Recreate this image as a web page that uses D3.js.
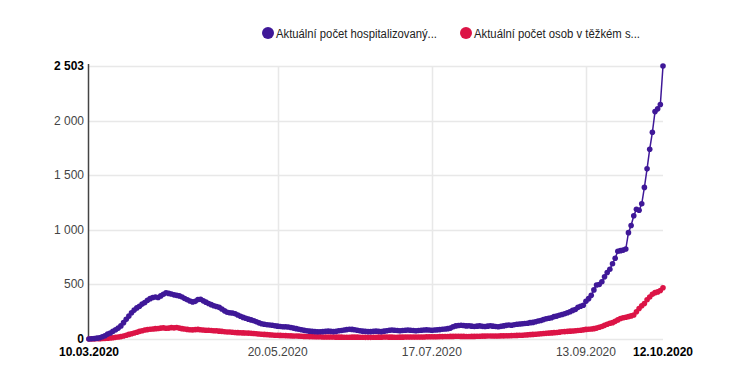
<!DOCTYPE html>
<html><head><meta charset="utf-8">
<script src="https://cdn.jsdelivr.net/npm/d3@7"></script>
<style>body{margin:0;background:#fff;font-family:"Liberation Sans",Arial,sans-serif}</style>
</head><body><svg id="c" width="750" height="388"></svg>
<script>
const startDate = "10.03.2020";
const seriesNames = ["Aktuální počet hospitalizovaný...", "Aktuální počet osob v těžkém s..."];
const seriesColors = ["#3f1898", "#dc1446"];
const xTickLabels = ["10.03.2020", "20.05.2020", "17.07.2020", "13.09.2020", "12.10.2020"];
const yTickValues = [0, 500, 1000, 1500, 2000, 2503];
const yTickLabels = ["0", "500", "1 000", "1 500", "2 000", "2 503"];

const hospitalized = [
0,2,5,8,12,20,30,45,55,70,
85,100,120,150,180,210,240,265,285,300,
320,335,355,370,380,385,380,395,410,424,
418,412,405,400,395,385,372,360,348,340,
345,362,365,350,338,325,315,305,298,290,
275,258,245,240,238,232,220,208,198,190,
182,175,168,158,148,140,135,130,128,126,
122,118,115,113,112,110,105,100,95,90,
85,80,76,72,70,68,67,66,68,70,
72,70,68,70,75,78,82,86,90,88,
85,80,76,72,70,68,68,70,72,70,
68,72,75,80,82,80,78,76,78,80,
82,80,78,76,78,80,82,84,82,80,
82,84,86,90,92,95,100,112,120,124,
126,124,120,122,118,115,118,120,116,114,
118,122,118,115,113,116,120,125,128,126,
130,135,138,140,142,145,150,152,158,165,
170,178,185,190,195,205,210,218,225,232,
240,250,262,270,290,300,310,345,370,400,
450,495,500,525,570,610,640,690,740,805,
810,815,825,975,1040,1130,1190,1180,1240,1390,
1560,1740,1895,2085,2110,2150,2503
];
const severe = [
0,0,1,2,3,4,6,8,10,12,
15,18,22,28,35,42,48,55,62,70,
76,82,86,90,92,95,96,100,102,98,
100,104,102,105,100,95,92,88,85,84,
86,88,85,82,80,80,78,76,75,72,
70,66,64,64,62,60,58,57,56,55,
54,52,50,48,46,44,42,40,38,36,
35,34,33,32,31,30,29,28,27,26,
25,24,23,22,22,21,20,20,19,19,
18,18,18,17,17,17,16,16,16,17,
17,17,16,16,15,15,15,16,16,17,
17,18,18,17,17,16,16,17,17,18,
18,19,19,18,18,19,19,20,20,21,
21,21,22,22,23,23,24,24,25,25,
24,24,23,23,24,24,25,25,26,26,
27,27,28,28,28,29,29,30,30,31,
32,33,34,35,36,38,40,42,44,46,
48,50,52,54,56,58,60,63,66,68,
70,72,74,76,78,80,84,88,90,92,
95,100,108,115,125,135,144,150,162,175,
188,195,200,205,212,220,250,280,305,325,
360,385,410,425,432,445,470
];

const parse = d3.timeParse("%d.%m.%Y");
const t0 = parse(startDate);
const dates = hospitalized.map((_, i) => d3.timeDay.offset(t0, i));
const series = [hospitalized, severe];

const svg = d3.select("#c");
const x = d3.scaleTime().domain([dates[0], dates[dates.length - 1]]).range([89, 663]);
const y = d3.scaleLinear().domain([0, 2503]).range([339, 66]);

// horizontal grid
svg.append("g").selectAll("line").data(yTickValues).join("line")
  .attr("x1", 88).attr("x2", 663)
  .attr("y1", d => Math.round(y(d)) + 0.5).attr("y2", d => Math.round(y(d)) + 0.5)
  .attr("stroke", "#e8e8e8").attr("stroke-width", 1.5);

// vertical grid
const xTickDates = xTickLabels.map(parse);
svg.append("g").selectAll("line").data(xTickDates.slice(1, -1)).join("line")
  .attr("x1", d => Math.round(x(d)) + 0.5).attr("x2", d => Math.round(x(d)) + 0.5)
  .attr("y1", 66).attr("y2", 339)
  .attr("stroke", "#e8e8e8").attr("stroke-width", 1.5);

// left axis line
svg.append("line").attr("x1", 88.5).attr("x2", 88.5).attr("y1", 64).attr("y2", 340)
  .attr("stroke", "#444").attr("stroke-width", 1.5);

// y labels
svg.append("g").selectAll("text").data(yTickValues).join("text")
  .attr("x", 84).attr("y", d => y(d) + 4)
  .attr("text-anchor", "end")
  .attr("font-size", 12)
  .attr("font-weight", (d, i) => (i === 0 || i === yTickValues.length - 1) ? "bold" : "normal")
  .attr("fill", (d, i) => (i === 0 || i === yTickValues.length - 1) ? "#000" : "#444")
  .text((d, i) => yTickLabels[i]);

// x labels
svg.append("g").selectAll("text").data(xTickDates).join("text")
  .attr("x", d => x(d)).attr("y", 356)
  .attr("text-anchor", "middle")
  .attr("font-size", 12)
  .attr("font-weight", (d, i) => (i === 0 || i === xTickDates.length - 1) ? "bold" : "normal")
  .attr("fill", (d, i) => (i === 0 || i === xTickDates.length - 1) ? "#000" : "#444")
  .text((d, i) => xTickLabels[i]);

// series
const line = d3.line().x((d, i) => x(dates[i])).y(d => y(d));
series.slice().reverse().forEach((s, k) => {
  const idx = series.length - 1 - k;
  const g = svg.append("g");
  g.append("path").attr("d", line(s)).attr("fill", "none")
    .attr("stroke", seriesColors[idx]).attr("stroke-width", 1.5);
  g.selectAll("circle").data(s).join("circle")
    .attr("cx", (d, i) => x(dates[i])).attr("cy", d => y(d)).attr("r", 2.8)
    .attr("fill", seriesColors[idx]);
});

// legend
const legX = [268, 466];
seriesNames.forEach((n, i) => {
  svg.append("circle").attr("cx", legX[i]).attr("cy", 33).attr("r", 6).attr("fill", seriesColors[i]);
  svg.append("text").attr("x", legX[i] + 8).attr("y", 37.5)
    .attr("font-size", 12).attr("fill", "#222")
    .attr("textLength", i === 0 ? 161 : 166).attr("lengthAdjust", "spacingAndGlyphs")
    .text(n);
});
</script></body></html>
